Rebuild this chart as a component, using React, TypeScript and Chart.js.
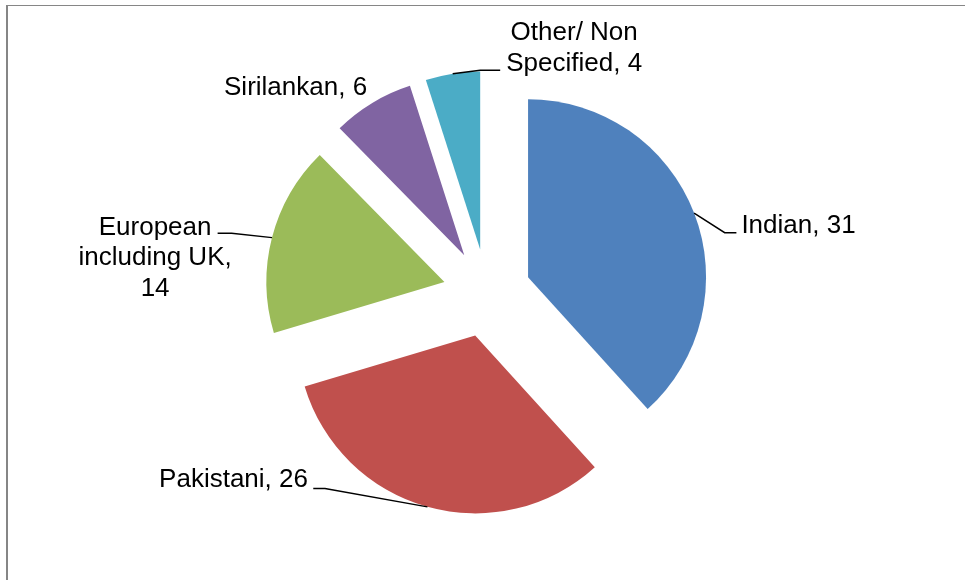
import React, { useEffect, useRef } from "react";
import { Chart, registerables } from "chart.js";

Chart.register(...registerables);

// ---- data ----
const categories = ["Indian", "Pakistani", "European including UK", "Sirilankan", "Other/ Non Specified"];
const values = [31, 26, 14, 6, 4];
const colors = ["#4F81BD", "#C0504D", "#9BBB59", "#8064A2", "#4BACC6"];

// ---- style / layout ----
const RADIUS = 178;
const EXPLODE = 44;
const FONT = '26px "Liberation Sans", Arial, sans-serif';
const LINE_H = 30.5;
const BORDER_COLOR = "#868686";

type LabelLayout = {
  leader: [number, number][] | null; // points relative to the arc's outer mid point
  tx: number;
  ty: number; // baseline of first line, relative
  align: CanvasTextAlign;
  wrap: number;
};

const labelLayout: LabelLayout[] = [
  { leader: [[30.6, 19.7], [42.3, 19.7]], tx: 47.3, ty: 19.6, align: "left", wrap: 400 },
  { leader: [[-102.5, -18.3], [-114.2, -18.3]], tx: -119.5, ty: -19.6, align: "right", wrap: 400 },
  { leader: [[-40.4, -4.4], [-54.4, -4.4]], tx: -116.9, ty: -2.7, align: "center", wrap: 165 },
  { leader: null, tx: -5.2, ty: -7.6, align: "right", wrap: 400 },
  { leader: [[27.5, -3.5], [47.5, -3.5]], tx: 121.5, ty: -33.4, align: "center", wrap: 145 },
];

function wrapText(ctx: CanvasRenderingContext2D, text: string, maxW: number): string[] {
  const words = text.split(" ");
  const lines: string[] = [];
  let cur = "";
  for (const w of words) {
    const test = cur ? cur + " " + w : w;
    if (cur && ctx.measureText(test).width > maxW) {
      lines.push(cur);
      cur = w;
    } else {
      cur = test;
    }
  }
  if (cur) lines.push(cur);
  return lines;
}

const framePlugin = {
  id: "frame",
  beforeDraw(chart: any) {
    const ctx = chart.ctx as CanvasRenderingContext2D;
    ctx.save();
    ctx.fillStyle = "#ffffff";
    ctx.fillRect(0, 0, chart.width, chart.height);
    ctx.fillStyle = BORDER_COLOR;
    ctx.fillRect(6, 5, 2, chart.height - 5);
    ctx.fillRect(6, 5, chart.width - 6, 1);
    ctx.restore();
  },
};

const explodePlugin = {
  id: "explode",
  beforeDatasetDraw(chart: any, args: any) {
    const ctx = chart.ctx as CanvasRenderingContext2D;
    args.meta.data.forEach((arc: any) => {
      const { startAngle, endAngle } = arc.getProps(["startAngle", "endAngle"], true);
      const mid = (startAngle + endAngle) / 2;
      ctx.save();
      ctx.translate(Math.cos(mid) * EXPLODE, Math.sin(mid) * EXPLODE);
      arc.draw(ctx, chart.chartArea);
      ctx.restore();
    });
    return false;
  },
  afterDatasetsDraw(chart: any) {
    const ctx = chart.ctx as CanvasRenderingContext2D;
    const meta = chart.getDatasetMeta(0);
    ctx.save();
    ctx.font = FONT;
    ctx.fillStyle = "#000000";
    ctx.strokeStyle = "#000000";
    ctx.lineWidth = 1.5;
    meta.data.forEach((arc: any, i: number) => {
      const { x, y, startAngle, endAngle, outerRadius } = arc.getProps(
        ["x", "y", "startAngle", "endAngle", "outerRadius"],
        true
      );
      const mid = (startAngle + endAngle) / 2;
      const px = x + Math.cos(mid) * (EXPLODE + outerRadius);
      const py = y + Math.sin(mid) * (EXPLODE + outerRadius);
      const lay = labelLayout[i];
      if (lay.leader) {
        ctx.beginPath();
        ctx.moveTo(px, py);
        lay.leader.forEach(([dx, dy]) => ctx.lineTo(px + dx, py + dy));
        ctx.stroke();
      }
      const text = `${categories[i]}, ${values[i]}`;
      const lines = wrapText(ctx, text, lay.wrap);
      ctx.textAlign = lay.align;
      ctx.textBaseline = "alphabetic";
      lines.forEach((ln, k) => {
        ctx.fillText(ln, px + lay.tx, py + lay.ty + k * LINE_H);
      });
    });
    ctx.restore();
  },
};

export default function App() {
  const ref = useRef<HTMLCanvasElement | null>(null);
  useEffect(() => {
    if (!ref.current) return;
    const chart = new Chart(ref.current, {
      type: "pie",
      data: {
        labels: categories,
        datasets: [
          {
            data: values,
            backgroundColor: colors,
            borderWidth: 0,
            hoverOffset: 0,
            offset: 0,
          },
        ],
      },
      options: {
        responsive: false,
        animation: false,
        radius: RADIUS,
        layout: { padding: { left: 9, right: 0, top: 6, bottom: 0 } },
        plugins: {
          legend: { display: false },
          tooltip: { enabled: false },
        },
        events: [],
      } as any,
      plugins: [framePlugin, explodePlugin],
    });
    return () => chart.destroy();
  }, []);
  return (
    <div style={{ position: "absolute", left: 0, top: 0, width: 965, height: 580, background: "#fff" }}>
      <canvas ref={ref} width={965} height={580} style={{ display: "block", width: 965, height: 580 }} />
    </div>
  );
}
